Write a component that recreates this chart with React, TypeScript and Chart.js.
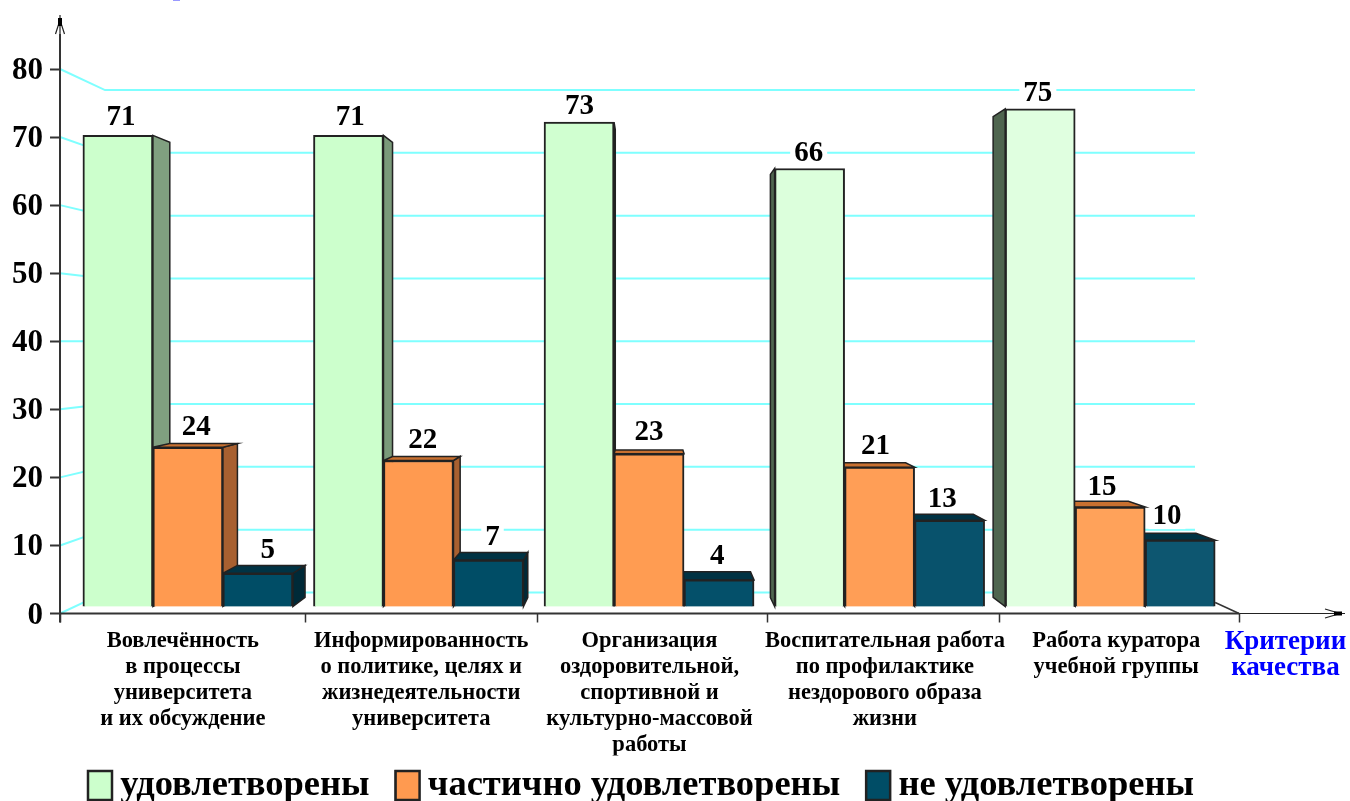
import React, { useEffect, useRef } from "react";
import { Chart, registerables } from "chart.js";

Chart.register(...registerables);

const categories: string[][] = [
  ["Вовлечённость", "в процессы", "университета", "и их обсуждение"],
  ["Информированность", "о политике, целях и", "жизнедеятельности", "университета"],
  ["Организация", "оздоровительной,", "спортивной и", "культурно-массовой", "работы"],
  ["Воспитательная работа", "по профилактике", "нездорового образа", "жизни"],
  ["Работа куратора", "учебной группы"],
];
const axisTitle = ["Критерии", "качества"];
const seriesNames = ["удовлетворены", "частично удовлетворены", "не удовлетворены"];
const satisfied = [71, 71, 73, 66, 75];
const partly = [24, 22, 23, 21, 15];
const notSatisfied = [5, 7, 4, 13, 10];
const yTicks = [0, 10, 20, 30, 40, 50, 60, 70, 80];

const legendColors = ["#ccffcc", "#ff9a50", "#004d66"];
const frontColors = [
  ["#ccffcc", "#ccffcc", "#d0ffd0", "#dcffdc", "#e0ffe0"],
  ["#ff9a50", "#ff9a50", "#ff9c52", "#ff9e56", "#ffa25a"],
  ["#004d66", "#004d66", "#04506a", "#08526c", "#0d5670"],
];
const sideColors = [
  ["#80a080", "#7a9a7a", "#668466", "#506650", "#4f654f"],
  ["#a86030", "#a86030", "#a86030", "#a86030", "#a86030"],
  ["#002a38", "#002a38", "#002a38", "#002a38", "#002a38"],
];
const topColors = [
  ["#a0c0a0", "#a0c0a0", "#a0c0a0", "#a0c0a0", "#a0c0a0"],
  ["#c87030", "#c87030", "#c87030", "#c87030", "#c87030"],
  ["#003344", "#003344", "#003344", "#003344", "#003344"],
];

const SERIF = "'Liberation Serif', serif";
const S = 0.966;
const VX = 650;
const VY = 341;
const labelShift = [0.006, 0.018, 0.025];
const labelLift = [
  [17.5, 17.5, 15.5, 15, 15.5],
  [20, 20, 21, 21, 19],
  [23, 23, 23, 21, 24],
];
const GRID = "#7fffff";
const AXIS = "#333333";

// tick positions on the linear x scale
const edgeTicks = [0.4453, 1.51, 2.515, 3.515, 4.52, 5.559];
const labelTicks = [0.978, 2.012, 3.002, 4.023, 5.026];
const titleTick = 5.76;
const X_MIN = 0.4453;
const X_MAX = 6.014;

const persp = (x: number, y: number): [number, number] => [VX + (x - VX) * S, VY + (y - VY) * S];

function poly(ctx: CanvasRenderingContext2D, pts: [number, number][], fill: string) {
  ctx.beginPath();
  pts.forEach((p, i) => (i ? ctx.lineTo(p[0], p[1]) : ctx.moveTo(p[0], p[1])));
  ctx.closePath();
  ctx.fillStyle = fill;
  ctx.fill();
  ctx.strokeStyle = "#222222";
  ctx.lineWidth = 1.5;
  ctx.stroke();
}

const LEGEND_FONT = 36.5;
const LEGEND_PAD = 26;
const LEGEND_LEFT = 62;
const LEGEND_TOP = 741.25;
const LEGEND_BOX_W = 24;
const LEGEND_BOX_H = 29;

const depthPlugin = {
  id: "depth",
  afterLayout(chart: any) {
    const lg = chart.legend;
    const dx = LEGEND_LEFT - lg.left;
    const dy = LEGEND_TOP - lg.top;
    lg.left += dx;
    lg.right += dx;
    lg.top += dy;
    lg.bottom += dy;
    (lg.legendHitBoxes || []).forEach((hb: any) => {
      hb.left += dx;
      hb.top += dy;
    });
  },
  beforeDatasetsDraw(chart: any) {
    const { ctx, scales } = chart;
    const axisY = scales.y;
    const backY = scales.back;
    const backLeft = 105;
    const backRight = 1195;
    const left = chart.chartArea.left;
    ctx.save();
    // back wall with perspective grid
    ctx.strokeStyle = GRID;
    ctx.lineWidth = 2;
    yTicks.forEach((v) => {
      const yb = backY.getPixelForValue(v);
      ctx.beginPath();
      ctx.moveTo(left, axisY.getPixelForValue(v));
      ctx.lineTo(backLeft, yb);
      ctx.lineTo(backRight, yb);
      ctx.stroke();
    });
    // white gaps in the grid behind value labels
    ctx.font = `bold 29px ${SERIF}`;
    chart.data.datasets.forEach((ds: any, di: number) => {
      const meta = chart.getDatasetMeta(di);
      meta.data.forEach((el: any, i: number) => {
        const text = String(ds.data[i].y);
        const w = ctx.measureText(text).width + 8;
        const cx = el.x + (VX - el.x) * labelShift[di];
        ctx.fillStyle = "#ffffff";
        ctx.fillRect(cx - w / 2, el.y - labelLift[di][i] - 14, w, 27);
      });
    });
    // floor edge toward the end of the axis
    const lastBar = chart.getDatasetMeta(2).data[4];
    ctx.strokeStyle = AXIS;
    ctx.lineWidth = 1.5;
    ctx.beginPath();
    ctx.moveTo(lastBar.x + lastBar.width / 2, lastBar.base - 4);
    ctx.lineTo(scales.x.getPixelForValue(edgeTicks[5]), axisY.getPixelForValue(0));
    ctx.stroke();
    // side and top faces of each bar
    chart.data.datasets.forEach((_: any, di: number) => {
      const meta = chart.getDatasetMeta(di);
      meta.data.forEach((el: any, i: number) => {
        const l = el.x - el.width / 2;
        const r = el.x + el.width / 2;
        const t = el.y;
        const b = el.base;
        if (r < VX) poly(ctx, [[r, t], persp(r, t), persp(r, b), [r, b]], sideColors[di][i]);
        if (l > VX) poly(ctx, [[l, t], persp(l, t), persp(l, b), [l, b]], sideColors[di][i]);
        if (t > VY) poly(ctx, [[l, t], [r, t], persp(r, t), persp(l, t)], topColors[di][i]);
      });
    });
    ctx.restore();
  },
  afterDatasetsDraw(chart: any) {
    const { ctx, scales } = chart;
    const x0 = chart.chartArea.left;
    const y0 = scales.y.getPixelForValue(0);
    const xEnd = scales.x.getPixelForValue(edgeTicks[5]);
    ctx.save();
    // value labels
    ctx.font = `bold 29px ${SERIF}`;
    ctx.fillStyle = "#000000";
    ctx.textAlign = "center";
    ctx.textBaseline = "middle";
    chart.data.datasets.forEach((ds: any, di: number) => {
      chart.getDatasetMeta(di).data.forEach((el: any, i: number) => {
        const cx = el.x + (VX - el.x) * labelShift[di];
        ctx.fillText(String(ds.data[i].y), cx, el.y - labelLift[di][i]);
      });
    });
    // axes with open arrows
    ctx.strokeStyle = AXIS;
    ctx.lineWidth = 2;
    ctx.beginPath();
    ctx.moveTo(x0, y0 + 9);
    ctx.lineTo(x0, 34);
    ctx.moveTo(x0, y0);
    ctx.lineTo(xEnd, y0);
    ctx.stroke();
    ctx.strokeStyle = "#222222";
    ctx.lineWidth = 1.2;
    ctx.beginPath();
    ctx.moveTo(x0, 34);
    ctx.lineTo(x0, 15);
    ctx.moveTo(x0 - 4.5, 34);
    ctx.lineTo(x0, 20);
    ctx.lineTo(x0 + 4.5, 34);
    ctx.moveTo(xEnd, y0);
    ctx.lineTo(1345, y0);
    ctx.moveTo(1325, y0 - 4.5);
    ctx.lineTo(1340, y0);
    ctx.lineTo(1325, y0 + 4.5);
    ctx.stroke();
    ctx.fillStyle = "#000000";
    ctx.fillRect(x0 - 2, 18, 4, 8);
    ctx.fillRect(1334, y0 - 2, 8, 4);
    // sliver of a clipped heading at the top edge of the picture
    ctx.fillStyle = "#9999ff";
    ctx.fillRect(173, 0, 7, 1);
    ctx.restore();
  },
  afterDraw(chart: any) {
    // wider legend swatches than the library's text gap allows
    const { ctx } = chart;
    const lg = chart.legend;
    ctx.save();
    (lg.legendHitBoxes || []).forEach((hb: any, i: number) => {
      const y = lg.top + LEGEND_PAD + (LEGEND_FONT - LEGEND_BOX_H) / 2;
      ctx.fillStyle = legendColors[i];
      ctx.strokeStyle = "#222222";
      ctx.lineWidth = 2.5;
      ctx.fillRect(hb.left, y, LEGEND_BOX_W, LEGEND_BOX_H);
      ctx.strokeRect(hb.left, y, LEGEND_BOX_W, LEGEND_BOX_H);
    });
    ctx.restore();
  },
};

export default function App() {
  const ref = useRef<HTMLCanvasElement | null>(null);
  useEffect(() => {
    document.body.style.margin = "0";
    const series = [satisfied, partly, notSatisfied];
    const chart = new Chart(ref.current as HTMLCanvasElement, {
      type: "bar",
      data: {
        datasets: series.map((vals, di) => ({
          label: seriesNames[di],
          data: vals.map((y, i) => ({ x: i + 1, y })),
          xAxisID: "x",
          yAxisID: "front",
          backgroundColor: frontColors[di],
          borderColor: "#222222",
          borderWidth: 2,
          barThickness: 70,
        })),
      },
      options: {
        responsive: false,
        animation: false,
        events: [],
        layout: { padding: { top: 69, right: 5, left: 0, bottom: -27 } },
        plugins: {
          tooltip: { enabled: false },
          title: { display: false },
          legend: {
            display: true,
            position: "bottom",
            align: "start",
            labels: {
              font: { family: SERIF, size: LEGEND_FONT, weight: "bold" },
              color: "#000000",
              boxWidth: 14,
              boxHeight: LEGEND_BOX_H,
              padding: LEGEND_PAD,
              generateLabels: () =>
                seriesNames.map((text, i) => ({
                  text,
                  fillStyle: legendColors[i],
                  strokeStyle: "#222222",
                  lineWidth: 2,
                  datasetIndex: i,
                })),
            },
          },
        },
        scales: {
          x: {
            type: "linear",
            position: "bottom",
            min: X_MIN,
            max: X_MAX,
            offset: false,
            afterFit: (s: any) => {
              s.height = 142;
            },
            afterBuildTicks: (s: any) => {
              s.ticks = [...edgeTicks, ...labelTicks, titleTick, X_MAX]
                .sort((a, b) => a - b)
                .map((value) => ({ value }));
            },
            border: { display: false },
            grid: {
              offset: false,
              drawOnChartArea: false,
              drawTicks: true,
              tickLength: 9,
              tickWidth: 1.5,
              tickColor: (c: any) =>
                edgeTicks.includes(c.tick && c.tick.value) ? AXIS : "rgba(0,0,0,0)",
            },
            ticks: {
              autoSkip: false,
              maxRotation: 0,
              minRotation: 0,
              padding: 6,
              color: (c: any) => (c.tick && c.tick.value === titleTick ? "#0000ff" : "#000000"),
              font: (c: any) =>
                c.tick && c.tick.value === titleTick
                  ? { family: SERIF, size: 27, weight: "bold", lineHeight: 0.97 }
                  : { family: SERIF, size: 22.5, weight: "bold", lineHeight: 1.155 },
              callback: (value: any) => {
                const i = labelTicks.indexOf(value);
                if (i >= 0) return categories[i];
                if (value === titleTick) return axisTitle;
                return "";
              },
            },
          },
          y: {
            type: "linear",
            position: "left",
            min: 0,
            max: 80,
            afterFit: (s: any) => {
              s.width = 60;
            },
            border: { display: false },
            grid: { drawOnChartArea: false, tickLength: 10, tickColor: AXIS, tickWidth: 2 },
            ticks: {
              stepSize: 10,
              padding: 7,
              labelOffset: 2,
              color: "#000000",
              font: { family: SERIF, size: 31, weight: "bold" },
            },
          },
          front: { type: "linear", axis: "y", position: "left", display: false, min: -1.056, max: 81.0 },
          back: { type: "linear", axis: "y", position: "left", display: false, min: -3.35, max: 83.35 },
        },
      } as any,
      plugins: [depthPlugin as any],
    });
    return () => chart.destroy();
  }, []);
  return (
    <div style={{ width: 1350, height: 801, overflow: "hidden", position: "relative" }}>
      <canvas ref={ref} width={1350} height={801} style={{ display: "block" }} />
    </div>
  );
}
